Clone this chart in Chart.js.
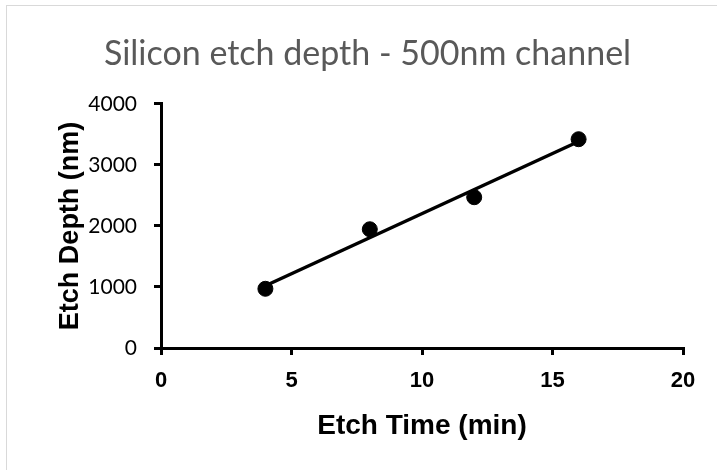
<!DOCTYPE html>
<html>
<head>
<meta charset="utf-8">
<title>Silicon etch depth</title>
<script src="https://cdn.jsdelivr.net/npm/chart.js@4.4.1/dist/chart.umd.min.js"></script>
<style>
  html, body { margin: 0; padding: 0; background: #fff; }
  .frame { position: absolute; left: 6px; top: 5px; width: 760px; height: 500px; border: 1px solid #d9d9d9; }
  .wrap { position: absolute; left: 0; top: 0; width: 717px; height: 470px; }
</style>
</head>
<body>
<div class="frame"></div>
<div class="wrap"><canvas id="chart"></canvas></div>
<script>
// measured points
const etchTime = [4, 8, 12, 16];
const etchDepth = [970, 1945, 2470, 3420];
const xTickValues = [0, 5, 10, 15, 20];
const yTickValues = [0, 1000, 2000, 3000, 4000];

// linear trendline through the measurements (least squares, like Excel)
const n = etchTime.length;
const mx = etchTime.reduce((a, b) => a + b, 0) / n;
const my = etchDepth.reduce((a, b) => a + b, 0) / n;
let sxy = 0, sxx = 0;
for (let i = 0; i < n; i++) {
  sxy += (etchTime[i] - mx) * (etchDepth[i] - my);
  sxx += (etchTime[i] - mx) ** 2;
}
const slope = sxy / sxx;
const intercept = my - slope * mx;
const xFirst = etchTime[0], xLast = etchTime[n - 1];

const axisFont = "'Liberation Sans', Arial, sans-serif";
const bodyFont = "Lato, 'Open Sans', sans-serif";

new Chart(document.getElementById("chart"), {
  type: "scatter",
  data: {
    datasets: [
      {
        label: "Trend",
        data: [
          { x: xFirst, y: intercept + slope * xFirst },
          { x: xLast, y: intercept + slope * xLast },
        ],
        showLine: true,
        borderColor: "#000",
        borderWidth: 3.5,
        pointRadius: 0,
      },
      {
        label: "Etch depth",
        data: etchTime.map((t, i) => ({ x: t, y: etchDepth[i] })),
        backgroundColor: "#000",
        borderColor: "#000",
        pointRadius: 7.5,
        pointHoverRadius: 7.5,
      },
    ],
  },
  options: {
    responsive: true,
    maintainAspectRatio: false,
    animation: false,
    layout: { padding: { left: 52, right: 34, top: 0, bottom: 0 } },
    plugins: {
      legend: { display: false },
      tooltip: { enabled: false },
      title: {
        display: true,
        text: "Silicon etch depth - 500nm channel",
        color: "#595959",
        font: { family: bodyFont, size: 34, weight: "normal" },
        padding: { top: 34, bottom: 29 },
      },
    },
    scales: {
      x: {
        type: "linear",
        min: 0,
        max: 20,
        afterBuildTicks: (s) => { s.ticks = xTickValues.map((v) => ({ value: v })); },
        afterFit: (s) => { s.height = 122; },
        ticks: {
          color: "#000",
          font: { family: axisFont, size: 22, weight: "bold" },
          padding: 13,
        },
        grid: { drawOnChartArea: false, drawTicks: true, tickLength: 7, lineWidth: 3, color: "#000" },
        border: { display: true, color: "#000", width: 3 },
        title: {
          display: true,
          text: "Etch Time (min)",
          color: "#000",
          font: { family: axisFont, size: 28, weight: "bold" },
          padding: { top: 0, bottom: 27 },
        },
      },
      y: {
        type: "linear",
        min: 0,
        max: 4000,
        afterBuildTicks: (s) => { s.ticks = yTickValues.map((v) => ({ value: v })); },
        afterFit: (s) => { s.width = 109; },
        ticks: {
          color: "#000",
          font: { family: bodyFont, size: 21 },
          padding: 17,
          callback: (v) => String(v),
        },
        grid: { drawOnChartArea: false, drawTicks: true, tickLength: 7, lineWidth: 3, color: "#000" },
        border: { display: true, color: "#000", width: 3 },
        title: {
          display: true,
          text: "Etch Depth (nm)",
          color: "#000",
          font: { family: axisFont, size: 27, weight: "bold" },
          padding: { top: 2, bottom: 0 },
        },
      },
    },
  },
});
</script>
</body>
</html>
